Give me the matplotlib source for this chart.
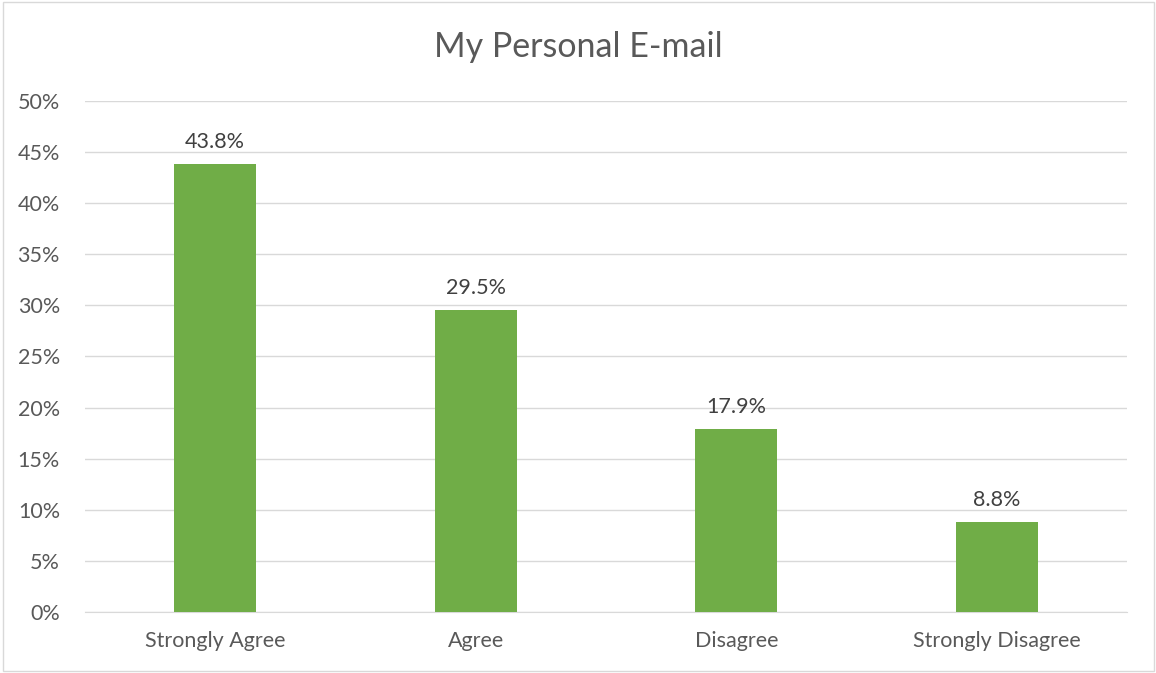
import matplotlib.pyplot as plt
import matplotlib.patches as patches
from matplotlib.ticker import FuncFormatter, MultipleLocator

categories = ['Strongly Agree', 'Agree', 'Disagree', 'Strongly Disagree']
values = [43.8, 29.5, 17.9, 8.8]
labels = ['43.8%', '29.5%', '17.9%', '8.8%']

plt.rcParams['font.family'] = ['Lato', 'DejaVu Sans']
txt = '#595959'

fig = plt.figure(figsize=(11.56, 6.73), dpi=100)
ax = fig.add_axes([0.0735, 0.0906, 0.9015, 0.7594])

x = range(len(categories))
bars = ax.bar(x, values, width=0.315, color='#70AD47', zorder=3)
for b, lab in zip(bars, labels):
    ax.text(b.get_x() + b.get_width() / 2, b.get_height() + 1.2, lab,
            ha='center', va='bottom', fontsize=15.5, color='#404040')

ax.set_xlim(-0.5, 3.5)
ax.set_ylim(0, 50)
ax.yaxis.set_major_locator(MultipleLocator(5))
ax.yaxis.set_major_formatter(FuncFormatter(lambda v, p: '%d%%' % v))
ax.set_xticks(list(x))
ax.set_xticklabels(categories)
ax.tick_params(axis='both', length=0, labelsize=15.5, colors=txt)
ax.tick_params(axis='x', pad=14)
ax.tick_params(axis='y', pad=18)
ax.grid(axis='y', color='#D9D9D9', linewidth=1, zorder=0)
for s in ['top', 'right', 'left']:
    ax.spines[s].set_visible(False)
ax.spines['bottom'].set_color('#D9D9D9')

fig.text(0.5, 0.93, 'My Personal E-mail', ha='center', va='center',
         fontsize=24.5, color=txt)

fig.patches.append(patches.Rectangle((0.003, 0.003), 0.995, 0.994,
                                     transform=fig.transFigure, fill=False,
                                     edgecolor='#D9D9D9', linewidth=1))

fig.savefig('out.png', dpi=100)
